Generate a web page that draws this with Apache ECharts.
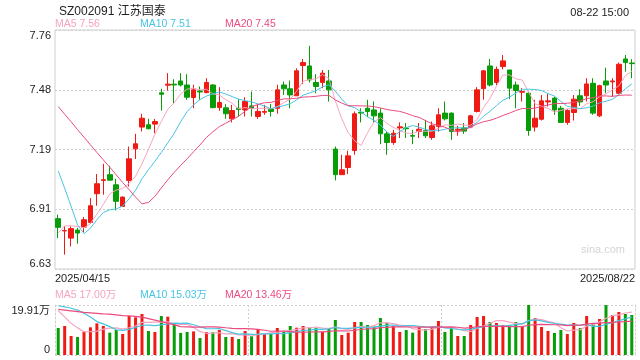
<!DOCTYPE html>
<html><head><meta charset="utf-8">
<script src="https://cdn.jsdelivr.net/npm/echarts@6/dist/echarts.min.js"></script>
<style>html,body{margin:0;padding:0;background:#fff}#c{width:640px;height:360px}</style>
</head><body><div id="c"></div>
<script>
const dates = [
'2025/04/15','2025/04/16','2025/04/17','2025/04/18','2025/04/21','2025/04/22','2025/04/23','2025/04/24','2025/04/25','2025/04/28','2025/04/29','2025/04/30',
'2025/05/06','2025/05/07','2025/05/08','2025/05/09','2025/05/12','2025/05/13','2025/05/14','2025/05/15','2025/05/16','2025/05/19','2025/05/20','2025/05/21','2025/05/22','2025/05/23','2025/05/26','2025/05/27','2025/05/28','2025/05/29','2025/05/30',
'2025/06/03','2025/06/04','2025/06/05','2025/06/06','2025/06/09','2025/06/10','2025/06/11','2025/06/12','2025/06/13','2025/06/16','2025/06/17','2025/06/18','2025/06/19','2025/06/20','2025/06/23','2025/06/24','2025/06/25','2025/06/26','2025/06/27','2025/06/30',
'2025/07/01','2025/07/02','2025/07/03','2025/07/04','2025/07/07','2025/07/08','2025/07/09','2025/07/10','2025/07/11','2025/07/14','2025/07/15','2025/07/16','2025/07/17','2025/07/18','2025/07/21','2025/07/22','2025/07/23','2025/07/24','2025/07/25','2025/07/28','2025/07/29','2025/07/30','2025/07/31',
'2025/08/01','2025/08/04','2025/08/05','2025/08/06','2025/08/07','2025/08/08','2025/08/11','2025/08/12','2025/08/13','2025/08/14','2025/08/15','2025/08/18','2025/08/19','2025/08/20','2025/08/21','2025/08/22'];

const opens = [6.868,6.810,6.776,6.814,6.828,6.850,6.986,7.049,7.076,7.028,
6.926,7.049,7.198,7.301,7.312,7.315,7.463,7.499,7.504,7.519,
7.500,7.441,7.472,7.464,7.500,7.393,7.392,7.340,7.390,7.382,
7.401,7.351,7.371,7.386,7.390,7.500,7.482,7.449,7.592,7.590,
7.512,7.512,7.519,7.197,7.076,7.110,7.190,7.371,7.390,7.382,
7.367,7.269,7.228,7.297,7.297,7.261,7.280,7.285,7.252,7.304,
7.367,7.367,7.286,7.297,7.301,7.375,7.483,7.590,7.512,7.587,
7.571,7.500,7.466,7.461,7.301,7.338,7.420,7.438,7.390,7.323,
7.370,7.449,7.449,7.508,7.354,7.519,7.515,7.461,7.623,7.604];

const closes = [6.827,6.812,6.821,6.800,6.863,6.929,7.033,7.052,7.050,6.950,
6.970,7.151,7.222,7.343,7.293,7.327,7.456,7.504,7.500,7.500,
7.442,7.477,7.467,7.512,7.393,7.417,7.364,7.379,7.384,7.422,
7.389,7.375,7.375,7.375,7.477,7.482,7.453,7.567,7.606,7.524,
7.493,7.556,7.477,7.076,7.099,7.165,7.364,7.367,7.375,7.354,
7.269,7.228,7.272,7.302,7.293,7.258,7.291,7.260,7.307,7.359,
7.340,7.280,7.291,7.282,7.354,7.477,7.567,7.500,7.574,7.614,
7.485,7.474,7.469,7.285,7.343,7.425,7.425,7.382,7.323,7.379,
7.433,7.420,7.505,7.367,7.497,7.500,7.519,7.598,7.606,7.601];

const lows = [6.776,6.698,6.737,6.750,6.803,6.844,6.929,6.981,7.049,6.907,
6.926,7.020,7.150,7.280,7.291,7.272,7.379,7.474,7.414,7.493,
7.430,7.390,7.430,7.461,7.390,7.378,7.340,7.323,7.351,7.351,
7.351,7.340,7.359,7.351,7.364,7.453,7.390,7.449,7.504,7.512,
7.461,7.485,7.422,7.049,7.076,7.079,7.170,7.323,7.348,7.323,
7.220,7.170,7.217,7.249,7.249,7.220,7.249,7.249,7.241,7.280,
7.332,7.241,7.260,7.269,7.296,7.370,7.430,7.493,7.500,7.574,
7.433,7.390,7.422,7.260,7.280,7.332,7.398,7.359,7.320,7.312,
7.332,7.401,7.422,7.359,7.348,7.461,7.445,7.456,7.563,7.532];

const highs = [6.887,6.832,6.832,6.824,6.876,6.965,7.079,7.127,7.118,7.057,
6.973,7.209,7.269,7.364,7.340,7.340,7.482,7.556,7.527,7.556,
7.551,7.501,7.493,7.532,7.504,7.490,7.409,7.406,7.433,7.442,
7.469,7.406,7.406,7.411,7.501,7.516,7.521,7.579,7.623,7.685,
7.551,7.571,7.571,7.209,7.170,7.189,7.375,7.390,7.430,7.422,
7.390,7.280,7.288,7.323,7.320,7.288,7.320,7.335,7.327,7.390,
7.422,7.370,7.307,7.320,7.359,7.490,7.571,7.623,7.587,7.642,
7.571,7.516,7.485,7.469,7.430,7.453,7.458,7.445,7.401,7.386,
7.453,7.480,7.532,7.532,7.501,7.582,7.532,7.606,7.642,7.622];

// volume in 万
const volumes = [10.75,11.55,7.57,7.17,9.29,11.02,12.61,11.55,8.89,9.95,
8.36,15.53,15.00,16.33,9.56,9.16,15.53,15.26,12.40,8.80,
9.16,9.40,6.77,9.10,9.03,10.00,7.17,7.20,6.37,9.56,
7.50,10.22,8.40,8.40,10.75,9.29,11.55,10.88,11.55,10.88,
10.88,9.29,10.35,13.94,7.96,8.89,13.14,13.14,11.95,11.28,
14.73,12.87,11.55,9.16,9.95,8.89,11.02,10.35,11.28,13.54,
9.16,10.62,7.57,7.57,11.95,15.13,15.53,13.14,12.74,11.95,
11.95,13.14,11.55,19.91,14.73,11.15,9.56,8.76,9.95,8.36,
12.74,10.75,15.53,12.61,14.33,19.88,15.93,17.12,16.33,15.93];

// moving-average values before a full window exists
const ma5Lead = [6.800,6.834,6.834,6.831];
const ma10Lead = [7.094,7.012,6.926,6.839,6.797,6.823,6.863,6.897,6.910];
const ma20Lead = [7.398,7.362,7.326,7.289,7.253,7.217,7.181,7.146,7.111,7.075,7.039,7.005,6.970,6.938,6.945,6.973,7.013,7.052,7.087];
const vma5Lead = [17.6,15.2,12.6,10.8];
const vma10Lead = [19.6,19.2,18.6,17.9,16.6,15.1,13.3,12.4,11.3];
const vma20Lead = [18.2,17.9,17.6,17.3,17.0,16.8,16.6,16.4,16.3,16.0,15.7,15.6,15.4,15.1,14.5,13.9,13.3,12.7,12.0];

const priceTickLabels = ['6.63','6.91','7.19','7.48','7.76'];
const priceMin = 6.63, priceMax = 7.76;
const volMax = 19.91;

const titleText = 'SZ002091 江苏国泰';
const timeText = '08-22 15:00';
const priceLegend = ['MA5 7.56','MA10 7.51','MA20 7.45'];
const volLegend = ['MA5 17.00万','MA10 15.03万','MA20 13.46万'];

const C_UP = '#f01a14', C_DOWN = '#079d07';
const C_MA5 = '#f7a4c0', C_MA10 = '#47c4e2', C_MA20 = '#ec4b80';
const FONT = "'Liberation Sans', Arial, 'Noto Sans CJK SC', sans-serif";

function movingAvg(src, n, lead) {
  return src.map((v, i) => {
    if (i < n - 1) return lead[i];
    let s = 0; for (let k = i - n + 1; k <= i; k++) s += src[k];
    return +(s / n).toFixed(4);
  });
}

const ohlc = dates.map((d, i) => [opens[i], closes[i], lows[i], highs[i]]);
const volData = volumes.map((v, i) => ({value: v, itemStyle: {color: closes[i] >= opens[i] ? C_UP : C_DOWN}}));

const dotted = {color: '#d0d0d0', type: [2, 2], width: 1};

const chart = echarts.init(document.getElementById('c'), null, {renderer: 'canvas'});
chart.setOption({
  animation: false,
  textStyle: {fontFamily: FONT},
  title: [
    {text: titleText, left: 54, top: 1, textStyle: {fontSize: 12, fontWeight: 'normal', color: '#222', fontFamily: FONT}},
    {text: timeText, right: 6, top: 2, textStyle: {fontSize: 11, fontWeight: 'normal', color: '#222', fontFamily: FONT}}
  ],
  graphic: [
    {type: 'text', left: 55, top: 19, style: {text: priceLegend[0], fill: C_MA5, font: '10.5px ' + FONT}},
    {type: 'text', left: 140, top: 19, style: {text: priceLegend[1], fill: C_MA10, font: '10.5px ' + FONT}},
    {type: 'text', left: 225, top: 19, style: {text: priceLegend[2], fill: C_MA20, font: '10.5px ' + FONT}},
    {type: 'text', left: 55, top: 290, style: {text: volLegend[0], fill: C_MA5, font: '10.5px ' + FONT}},
    {type: 'text', left: 140, top: 290, style: {text: volLegend[1], fill: C_MA10, font: '10.5px ' + FONT}},
    {type: 'text', left: 225, top: 290, style: {text: volLegend[2], fill: C_MA20, font: '10.5px ' + FONT}},
    {type: 'text', left: 581, top: 244, z: 0, style: {text: 'sina.com', fill: '#d4d4d4', font: '11px ' + FONT}}
  ],
  grid: [
    {left: 55, right: 5, top: 30, height: 239, show: true, borderColor: '#cfcfcf', borderWidth: 1, outerBoundsMode: 'none'},
    {left: 55, right: 5, top: 305, height: 50, outerBoundsMode: 'none'}
  ],
  xAxis: [
    {type: 'category', gridIndex: 0, data: dates, boundaryGap: true,
     axisLine: {show: false}, axisTick: {show: false}, axisLabel: {show: false}, splitLine: {show: false}},
    {type: 'category', gridIndex: 1, data: dates, boundaryGap: true,
     axisLine: {show: false}, axisTick: {show: false}, axisLabel: {show: false},
     splitLine: {show: true, interval: (i) => i === 30 || i === 60, lineStyle: dotted}},
    {type: 'category', gridIndex: 0, data: dates, boundaryGap: false, position: 'bottom',
     axisLine: {show: false}, axisTick: {show: false}, splitLine: {show: false},
     axisLabel: {show: true, interval: (i) => i === 0 || i === dates.length - 1, margin: 4,
       alignMinLabel: 'left', alignMaxLabel: 'right', color: '#222', fontSize: 11, fontFamily: FONT}}
  ],
  yAxis: [
    {type: 'value', gridIndex: 0, min: priceMin, max: priceMax, position: 'left',
     axisLine: {show: false}, axisTick: {show: false}, axisLabel: {show: false}, splitLine: {show: false}},
    {type: 'value', gridIndex: 0, min: 0, max: priceTickLabels.length - 1, interval: 1, position: 'left',
     axisLine: {show: false}, axisTick: {show: false},
     axisLabel: {formatter: (v) => priceTickLabels[Math.round(v)], color: '#222', fontSize: 11, margin: 4,
       verticalAlignMinLabel: 'bottom', verticalAlignMaxLabel: 'top', fontFamily: FONT},
     splitLine: {show: true, lineStyle: dotted}},
    {type: 'value', gridIndex: 1, min: 0, max: volMax, interval: volMax, position: 'left',
     axisLine: {show: true, lineStyle: dotted}, axisTick: {show: false},
     axisLabel: {formatter: (v) => v === 0 ? '0' : v.toFixed(2) + '万', color: '#222', fontSize: 11, margin: 5,
       verticalAlignMinLabel: 'bottom', verticalAlignMaxLabel: 'top', fontFamily: FONT},
     splitLine: {show: true, lineStyle: dotted}},
    {type: 'value', gridIndex: 1, min: 0, max: volMax, position: 'right',
     axisLine: {show: true, lineStyle: dotted}, axisTick: {show: false}, axisLabel: {show: false}, splitLine: {show: false}}
  ],
  series: [
    {type: 'candlestick', xAxisIndex: 0, yAxisIndex: 0, data: ohlc, barWidth: 5,
     itemStyle: {color: C_UP, color0: C_DOWN, borderColor: C_UP, borderColor0: C_DOWN, borderWidth: 1}},
    {type: 'line', xAxisIndex: 0, yAxisIndex: 0, data: movingAvg(closes, 5, ma5Lead), showSymbol: false, lineStyle: {color: C_MA5, width: 1}, itemStyle: {color: C_MA5}},
    {type: 'line', xAxisIndex: 0, yAxisIndex: 0, data: movingAvg(closes, 10, ma10Lead), showSymbol: false, lineStyle: {color: C_MA10, width: 1}, itemStyle: {color: C_MA10}},
    {type: 'line', xAxisIndex: 0, yAxisIndex: 0, data: movingAvg(closes, 20, ma20Lead), showSymbol: false, lineStyle: {color: C_MA20, width: 1}, itemStyle: {color: C_MA20}},
    {type: 'bar', xAxisIndex: 1, yAxisIndex: 2, data: volData, barWidth: 3},
    {type: 'line', xAxisIndex: 1, yAxisIndex: 2, data: movingAvg(volumes, 5, vma5Lead), showSymbol: false, lineStyle: {color: C_MA5, width: 1.2}, itemStyle: {color: C_MA5}},
    {type: 'line', xAxisIndex: 1, yAxisIndex: 2, data: movingAvg(volumes, 10, vma10Lead), showSymbol: false, lineStyle: {color: C_MA10, width: 1.2}, itemStyle: {color: C_MA10}},
    {type: 'line', xAxisIndex: 1, yAxisIndex: 2, data: movingAvg(volumes, 20, vma20Lead), showSymbol: false, lineStyle: {color: C_MA20, width: 1.2}, itemStyle: {color: C_MA20}}
  ]
});
</script>
</body></html>
